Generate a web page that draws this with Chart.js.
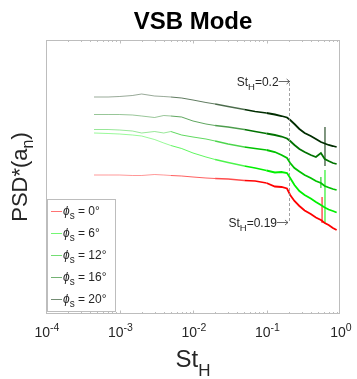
<!DOCTYPE html>
<html>
<head>
<meta charset="utf-8">
<script src="https://cdn.jsdelivr.net/npm/chart.js@4"></script>
<style>
html, body { margin: 0; padding: 0; background: #fff; }
canvas { display: block; }
</style>
</head>
<body>
<canvas id="psd_chart" width="357" height="379"></canvas>
<script>
// PSD of a_n for several sideslip angles (arbitrary units)

const st = [4.5e-4, 7e-4, 1e-3, 1.5e-3, 2e-3, 3e-3, 4e-3, 5e-3, 7e-3, 1e-2,
    1.5e-2, 2e-2, 3e-2, 5e-2, 7e-2, 0.1, 0.13, 0.16, 0.19, 0.21,
    0.24, 0.28, 0.33, 0.4, 0.47, 0.55, 0.62, 0.7, 0.8, 0.9]

const psd_0 = [139, 139, 139, 138.5, 138.5, 139.5, 139, 138.5, 138, 137,
    136, 135.5, 135, 133.5, 133, 131, 127.5, 127, 125.5, 119,
    113, 108, 103.5, 100, 96.5, 94, 91, 89, 86, 84]
const psd_6 = [181, 180.5, 180, 179, 178, 174.5, 171, 168.5, 165.5, 161,
    157, 154.5, 151.5, 148, 146, 143.5, 141.5, 142, 141, 136,
    129, 123, 119, 115.5, 112, 109, 106.5, 104.5, 103, 101.5]
const psd_12 = [184.5, 184.5, 184, 183, 181, 182.5, 181, 182.5, 179, 177,
    175, 173, 170, 167, 165.5, 164, 162, 159, 156, 151,
    146, 142.5, 139, 136, 133, 131, 128, 126.5, 125, 124]
const psd_16 = [199.5, 199.5, 199.5, 199, 198, 196.5, 198.5, 198, 197, 193,
    190, 188.5, 187, 184.5, 182.5, 180.5, 179, 177.5, 175.5, 173,
    169, 165, 162, 159, 157, 161, 155, 153, 151, 150]
const psd_20 = [217, 217, 217.5, 218.5, 220, 218, 217.5, 217, 216, 214,
    211.5, 210, 207.5, 204.5, 202.5, 201, 199.5, 198, 196.5, 194,
    190, 185, 181, 178, 175, 172, 170.5, 169, 168, 167]

const angles = ['0', '6', '12', '16', '20']
const series = [psd_0, psd_6, psd_12, psd_16, psd_20]
const colors = [[255, 0, 0], [0, 240, 0], [0, 195, 0], [0, 115, 0], [0, 45, 0]]

// narrow peaks near St = 0.6
const spike_st = [0.625, 0.625, 0.55, 0.57]
const spike_low = [148, 91, 126, 91]
const spike_high = [187, 144, 137, 117]
const spike_series = [4, 1, 2, 0]

// annotations
const note_st = [0.2, 0.19]
const note_level = [233, 92]
const note_text = ['0.2', '0.19']

const x_ticks = [1e-4, 1e-3, 1e-2, 1e-1, 1]
const x_tick_exp = ['-4', '-3', '-2', '-1', '0']

const FONT = '"Liberation Sans", Arial, Helvetica, sans-serif'
const TEXT = '#262626'

function rgba(c, a) {
    return 'rgba(' + c[0] + ',' + c[1] + ',' + c[2] + ',' + a + ')'
}

const datasets = []
for (let i = 0; i < series.length; i++) {
    const col = colors[i]
    datasets.push({
        label: angles[i],
        data: st.map((x, k) => ({x: x, y: series[i][k]})),
        borderColor: rgba(col, 1),
        borderWidth: 1,
        pointRadius: 0,
        tension: 0,
        segment: {
            borderWidth: ctx => ctx.p0.parsed.x < 0.02 ? 0.9 : (ctx.p0.parsed.x < 0.1 ? 1.3 : 1.8),
            borderColor: ctx => rgba(col, ctx.p0.parsed.x < 0.005 ? 0.45 : (ctx.p0.parsed.x < 0.05 ? 0.7 : 1))
        }
    })
}
for (let i = 0; i < spike_st.length; i++) {
    datasets.push({
        label: 'spike',
        data: [{x: spike_st[i], y: spike_low[i]}, {x: spike_st[i], y: spike_high[i]}],
        borderColor: rgba(colors[spike_series[i]], 1),
        borderWidth: 1,
        pointRadius: 0
    })
}

// text with a raised or lowered small part
function drawParts(ctx, parts, x, y, align) {
    let w = 0
    for (const p of parts) {
        ctx.font = p.font
        p.w = ctx.measureText(p.t).width
        w += p.w
    }
    let cx = x
    if (align == 'center') cx = x - w / 2
    if (align == 'right') cx = x - w
    ctx.textAlign = 'left'
    ctx.textBaseline = 'alphabetic'
    for (const p of parts) {
        ctx.font = p.font
        ctx.fillText(p.t, cx, y + (p.dy || 0))
        cx += p.w
    }
}

const decor = {
    id: 'decor',
    afterDraw(chart) {
        const ctx = chart.ctx
        const a = chart.chartArea
        const xs = chart.scales.x
        const ys = chart.scales.y
        ctx.save()

        // frame
        ctx.strokeStyle = '#bdbdbd'
        ctx.lineWidth = 1
        ctx.strokeRect(a.left + 0.5, a.top + 0.5, a.right - a.left - 1, a.bottom - a.top - 1)

        // inward ticks on top and bottom
        ctx.beginPath()
        for (let e = -4; e < 0; e++) {
            for (let m = 1; m < 10; m++) {
                const px = Math.round(xs.getPixelForValue(m * Math.pow(10, e))) + 0.5
                const len = m == 1 ? 3.5 : 2
                ctx.moveTo(px, a.bottom)
                ctx.lineTo(px, a.bottom - len)
                ctx.moveTo(px, a.top)
                ctx.lineTo(px, a.top + len)
            }
        }
        ctx.stroke()

        // tick labels
        ctx.fillStyle = TEXT
        for (let i = 0; i < x_ticks.length; i++) {
            const px = xs.getPixelForValue(x_ticks[i])
            drawParts(ctx, [
                {t: '10', font: '14px ' + FONT},
                {t: x_tick_exp[i], font: '10.5px ' + FONT, dy: -6}
            ], px + 1, a.bottom + 23, 'center')
        }

        // dashed guide between the two arrows
        const gx = Math.round(xs.getPixelForValue(note_st[0])) + 0.5
        ctx.strokeStyle = '#8a8a8a'
        ctx.lineWidth = 0.8
        ctx.setLineDash([3, 2])
        ctx.beginPath()
        ctx.moveTo(gx, ys.getPixelForValue(note_level[0]) + 2)
        ctx.lineTo(gx, ys.getPixelForValue(note_level[1]))
        ctx.stroke()
        ctx.setLineDash([])

        // annotations: text followed by a thin arrow ending at the frequency
        for (let i = 0; i < note_st.length; i++) {
            const px = xs.getPixelForValue(note_st[i]) + 1
            const py = ys.getPixelForValue(note_level[i])
            ctx.strokeStyle = '#444444'
            ctx.lineWidth = 0.8
            ctx.beginPath()
            ctx.moveTo(px - 11, py + 0.5)
            ctx.lineTo(px, py + 0.5)
            ctx.moveTo(px - 3, py - 2)
            ctx.lineTo(px, py + 0.5)
            ctx.lineTo(px - 3, py + 3)
            ctx.stroke()
            ctx.fillStyle = TEXT
            drawParts(ctx, [
                {t: 'St', font: '12px ' + FONT},
                {t: 'H', font: '9.5px ' + FONT, dy: 4},
                {t: '=' + note_text[i], font: '12px ' + FONT}
            ], px - 11, py + 4.5, 'right')
        }

        // legend
        const lx = 47, ly = 199, lw = 68, lh = 112
        ctx.fillStyle = '#ffffff'
        ctx.fillRect(lx, ly, lw, lh)
        ctx.strokeStyle = '#bdbdbd'
        ctx.lineWidth = 1
        ctx.strokeRect(lx + 0.5, ly + 0.5, lw, lh)
        for (let i = 0; i < angles.length; i++) {
            const ry = ly + 12 + i * 22
            ctx.strokeStyle = rgba(colors[i], 0.55)
            ctx.lineWidth = 1
            ctx.beginPath()
            ctx.moveTo(lx + 4, ry + 0.5)
            ctx.lineTo(lx + 15, ry + 0.5)
            ctx.stroke()
            ctx.fillStyle = TEXT
            drawParts(ctx, [
                {t: '\u03d5', font: 'italic 12px ' + FONT},
                {t: 's', font: '10px ' + FONT, dy: 4},
                {t: ' = ' + angles[i] + '\u00b0', font: '12px ' + FONT}
            ], lx + 16, ry + 4, 'left')
        }

        // title
        const cx = (a.left + a.right) / 2
        ctx.fillStyle = '#000000'
        ctx.font = 'bold 24px ' + FONT
        ctx.textAlign = 'center'
        ctx.textBaseline = 'alphabetic'
        ctx.fillText('VSB Mode', cx, 29)

        // x axis title
        ctx.fillStyle = TEXT
        drawParts(ctx, [
            {t: 'St', font: '24px ' + FONT},
            {t: 'H', font: '17px ' + FONT, dy: 9}
        ], cx, 367, 'center')

        // y axis title
        ctx.save()
        ctx.translate(27, (a.top + a.bottom) / 2)
        ctx.rotate(-Math.PI / 2)
        drawParts(ctx, [
            {t: 'PSD*(a', font: '22px ' + FONT},
            {t: 'n', font: '16px ' + FONT, dy: 6},
            {t: ')', font: '22px ' + FONT}
        ], 0, 0, 'center')
        ctx.restore()

        ctx.restore()
    }
}

const frame = document.getElementById('psd_chart')

const psd_chart = new Chart(frame, {
    type: 'line',
    data: {datasets: datasets},
    options: {
        responsive: false,
        animation: false,
        layout: {padding: {left: 46, right: 17, top: 40, bottom: 65}},
        plugins: {
            legend: {display: false},
            title: {display: false},
            tooltip: {enabled: false}
        },
        scales: {
            x: {type: 'logarithmic', min: 1e-4, max: 1, display: false},
            y: {type: 'linear', min: 0, max: 274, display: false}
        }
    },
    plugins: [decor]
})
</script>
</body>
</html>
